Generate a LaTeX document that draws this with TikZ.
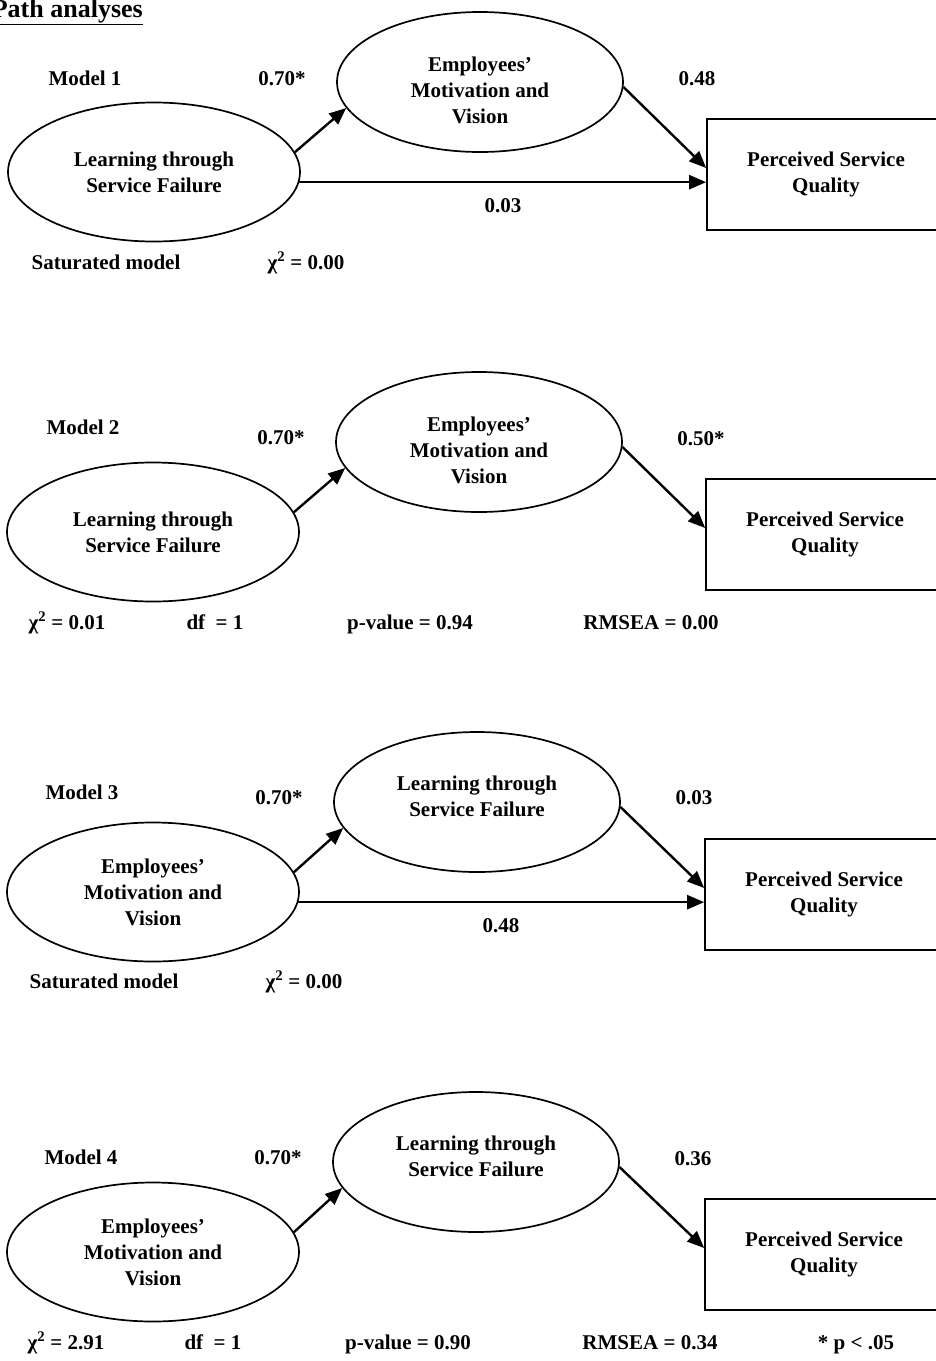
\documentclass[tikz,border=0pt]{standalone}
\usepackage{fontspec}
\setmainfont{Liberation Serif}
\usetikzlibrary{shapes.geometric,arrows.meta}

\begin{document}
\begin{tikzpicture}[x=1pt,y=-1pt,
  every node/.style={font=\fontsize{21}{26}\selectfont\bfseries, inner sep=0pt},
  lvleft/.style={ellipse, draw, line width=1.7pt, minimum width=292pt, minimum height=139pt, align=center},
  lvmid/.style={ellipse, draw, line width=1.7pt, minimum width=286pt, minimum height=140pt},
  obs/.style={draw, line width=1.7pt, minimum width=238pt, minimum height=111pt, align=center},
  txt/.style={align=center},
  lbl/.style={anchor=base},
  path/.style={line width=2.4pt, -{Triangle[length=17pt,width=14pt]}}
]
\useasboundingbox (0,0) rectangle (936,1361);
\clip (0,0) rectangle (936,1361);
\fill[white] (0,0) rectangle (936,1361);

% heading
\node[anchor=base east, font=\fontsize{26}{30}\selectfont\bfseries] (title) at (143,17) {\underline{Path analyses}};

% ---------------- Model 1 ----------------
\begin{scope}[shift={(0,0)}]
  \node[lvleft] (m1a) at (154,172) {Learning through\\Service Failure};
  \node[lvmid] (m1b) at (480,82) {};
  \node[txt] (m1bt) at (480,90) {Employees’\\Motivation and\\Vision};
  \node[obs] (m1c) at (826,174.5) {Perceived Service\\Quality};
  \draw[path] (m1a.8) -- (m1b.191);
  \draw[path] (m1b.-2) -- ([yshift=6.5pt]m1c.west);
  \draw[path] (m1a.-4) -- (m1a.-4 -| m1c.west);
\end{scope}
\node[lbl] (m1name) at (85,85) {Model 1};
\node[lbl] (m1p1) at (282,85) {0.70*};
\node[lbl] (m1p2) at (697,85) {0.48};
\node[lbl] (m1p3) at (503,212) {0.03};
\node[lbl] (m1s1) at (106,269) {Saturated model};
\node[lbl] (m1s2) at (306,269) {χ\textsuperscript{2} = 0.00};

% ---------------- Model 2 ----------------
\begin{scope}[shift={(-1,360)}]
  \node[lvleft] (m2a) at (154,172) {Learning through\\Service Failure};
  \node[lvmid] (m2b) at (480,82) {};
  \node[txt] (m2bt) at (480,90) {Employees’\\Motivation and\\Vision};
  \node[obs] (m2c) at (826,174.5) {Perceived Service\\Quality};
  \draw[path] (m2a.8) -- (m2b.191);
  \draw[path] (m2b.-2) -- ([yshift=6.5pt]m2c.west);
\end{scope}
\node[lbl] (m2name) at (83,434) {Model 2};
\node[lbl] (m2p1) at (281,444) {0.70*};
\node[lbl] (m2p2) at (701,445) {0.50*};
\node[lbl] (m2s1) at (67,629) {χ\textsuperscript{2} = 0.01};
\node[lbl] (m2s2) at (215,629) {df\enspace= 1};
\node[lbl] (m2s3) at (410,629) {p-value = 0.94};
\node[lbl] (m2s4) at (651,629) {RMSEA = 0.00};

% ---------------- Model 3 ----------------
\begin{scope}[shift={(-3,720)}]
  \node[lvleft] (m3a) at (156,172) {Employees’\\Motivation and\\Vision};
  \node[lvmid] (m3b) at (480,82) {};
  \node[txt] (m3bt) at (480,76) {Learning through\\Service Failure};
  \node[obs] (m3c) at (827,174.5) {Perceived Service\\Quality};
  \draw[path] (m3a.8) -- (m3b.191);
  \draw[path] (m3b.-2) -- ([yshift=6.5pt]m3c.west);
  \draw[path] (m3a.-4) -- (m3a.-4 -| m3c.west);
\end{scope}
\node[lbl] (m3name) at (82,799) {Model 3};
\node[lbl] (m3p1) at (279,804) {0.70*};
\node[lbl] (m3p2) at (694,804) {0.03};
\node[lbl] (m3p3) at (501,932) {0.48};
\node[lbl] (m3s1) at (104,988) {Saturated model};
\node[lbl] (m3s2) at (304,988) {χ\textsuperscript{2} = 0.00};

% ---------------- Model 4 ----------------
\begin{scope}[shift={(-4,1080)}]
  \node[lvleft] (m4a) at (157,172) {Employees’\\Motivation and\\Vision};
  \node[lvmid] (m4b) at (480,82) {};
  \node[txt] (m4bt) at (480,76) {Learning through\\Service Failure};
  \node[obs] (m4c) at (828,174.5) {Perceived Service\\Quality};
  \draw[path] (m4a.8) -- (m4b.191);
  \draw[path] (m4b.-2) -- ([yshift=6.5pt]m4c.west);
\end{scope}
\node[lbl] (m4name) at (81,1164) {Model 4};
\node[lbl] (m4p1) at (278,1164) {0.70*};
\node[lbl] (m4p2) at (693,1165) {0.36};
\node[lbl] (m4s1) at (66,1349) {χ\textsuperscript{2} = 2.91};
\node[lbl] (m4s2) at (213,1349) {df\enspace= 1};
\node[lbl] (m4s3) at (408,1349) {p-value = 0.90};
\node[lbl] (m4s4) at (650,1349) {RMSEA = 0.34};
\node[lbl] (m4s5) at (856,1349) {* p < .05};
\end{tikzpicture}
\end{document}
